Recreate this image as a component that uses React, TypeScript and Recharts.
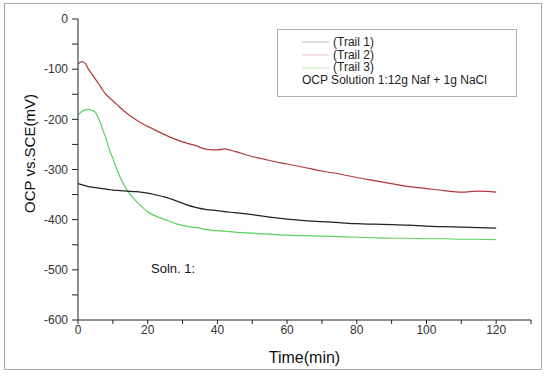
import React from "react";
import { LineChart, Line, XAxis, YAxis } from "recharts";

const times = [0, 1, 2, 3, 4, 5, 6, 7, 8, 9, 10, 12, 14, 16, 18, 20, 22, 25, 28, 31, 34, 37, 40, 42, 45, 50, 55, 60, 65, 70, 75, 80, 85, 90, 95, 100, 105, 110, 115, 120];

const trail1 = [-191, -185, -181, -180, -182, -186, -200, -218, -238, -260, -278, -314, -340, -358, -372, -384, -392, -400, -408, -413, -416, -420, -422, -423, -425, -427, -429, -431, -432, -433, -434, -435, -436, -437, -437, -438, -438, -439, -439, -440];

const trail2 = [-90, -85, -88, -100, -110, -120, -130, -141, -150, -157, -163, -176, -188, -198, -207, -214, -221, -231, -240, -247, -253, -260, -261, -259, -264, -274, -282, -289, -296, -303, -309, -316, -322, -328, -334, -338, -342, -345, -343, -345];

const trail3 = [-328, -330, -332, -334, -335, -336, -337, -338, -339, -340, -341, -342, -343, -344, -345, -347, -350, -355, -362, -370, -376, -380, -382, -384, -386, -390, -395, -399, -402, -404, -406, -408, -409, -410, -411, -413, -414, -415, -416, -417];

const xTicks = [0, 10, 20, 30, 40, 50, 60, 70, 80, 90, 100, 110, 120, 130];
const yTicks = [-600, -550, -500, -450, -400, -350, -300, -250, -200, -150, -100, -50, 0];

const seriesNames = ["(Trail 1)", "(Trail 2)", "(Trail 3)"];
const legendColors = ["#bdb6bd", "#eabdc4", "#c2eac2"];
const legendNote = "OCP Solution 1:12g Naf + 1g NaCl";
const annotation = "Soln. 1:";

const data = times.map((t, i) => ({ t, a: trail1[i], b: trail2[i], c: trail3[i] }));

const FONT = "'Liberation Sans', Arial, sans-serif";

const LegendBox = () => (
  <div
    style={{
      position: "absolute",
      left: 277,
      top: 29,
      border: "1px solid #b0b0b0",
      width: 240,
      height: 68,
      boxSizing: "border-box",
      fontFamily: FONT,
      fontSize: 12,
      color: "#222",
      padding: "6px 0 0 24px",
      lineHeight: "12.7px",
      background: "#fff",
    }}
  >
    {seriesNames.map((n, i) => (
      <div key={n} style={{ display: "flex", alignItems: "center", height: 12.7 }}>
        <svg width={31} height={4} style={{ display: "block" }}>
          <line x1={0} y1={2} x2={27} y2={2} stroke={legendColors[i]} strokeWidth={1} />
        </svg>
        <span>{n}</span>
      </div>
    ))}
    <div style={{ marginTop: 0 }}>{legendNote}</div>
  </div>
);

const fmtX = (v: number) => (v % 20 === 0 && v <= 120 ? String(v) : "");
const fmtY = (v: number) => (v % 100 === 0 ? String(v) : "");

export default function App() {
  return (
    <div style={{ position: "absolute", left: 0, top: 0, width: 550, height: 377, background: "#fff" }}>
      <div
        style={{
          position: "absolute",
          left: 4,
          top: 3,
          width: 538,
          height: 367,
          border: "1.5px solid #a8a8a8",
          boxSizing: "border-box",
        }}
      />
      <LineChart
        width={550}
        height={377}
        data={data}
        margin={{ top: 19, right: 19, bottom: 27, left: 18 }}
        style={{ position: "absolute", left: 0, top: 0 }}
      >
        <XAxis
          dataKey="t"
          type="number"
          domain={[0, 130]}
          ticks={xTicks}
          tickFormatter={fmtX}
          interval={0}
          height={30}
          tickSize={4}
          tickMargin={1}
          stroke="#222"
          tick={{ fill: "#333", fontSize: 12, fontFamily: FONT }}
          label={{ value: "Time(min)", position: "insideBottom", offset: -13, fill: "#111", fontSize: 16, fontFamily: FONT }}
        />
        <XAxis xAxisId="top" dataKey="t" type="number" domain={[0, 130]} orientation="top" height={0} tick={false} tickLine={false} stroke="#222" />
        <YAxis
          type="number"
          domain={[-600, 0]}
          ticks={yTicks}
          tickFormatter={fmtY}
          interval={0}
          width={60}
          tickSize={6}
          tickMargin={4}
          stroke="#222"
          tick={{ fill: "#333", fontSize: 12, fontFamily: FONT }}
          label={{ value: "OCP vs.SCE(mV)", angle: -90, position: "insideLeft", offset: 12, dy: -16, style: { textAnchor: "middle" }, fill: "#111", fontSize: 15, fontFamily: FONT }}
        />
        <YAxis yAxisId="right" orientation="right" domain={[-600, 0]} width={0} tick={false} tickLine={false} stroke="#222" />
        <Line dataKey="a" name="(Trail 1)" stroke="#5cd05c" strokeWidth={1.2} dot={false} isAnimationActive={false} type="monotone" />
        <Line dataKey="b" name="(Trail 2)" stroke="#b03838" strokeWidth={1.2} dot={false} isAnimationActive={false} type="monotone" />
        <Line dataKey="c" name="(Trail 3)" stroke="#222" strokeWidth={1.2} dot={false} isAnimationActive={false} type="monotone" />
      </LineChart>
      <LegendBox />
      <div style={{ position: "absolute", left: 151, top: 261, fontFamily: FONT, fontSize: 13, color: "#111" }}>{annotation}</div>
    </div>
  );
}
